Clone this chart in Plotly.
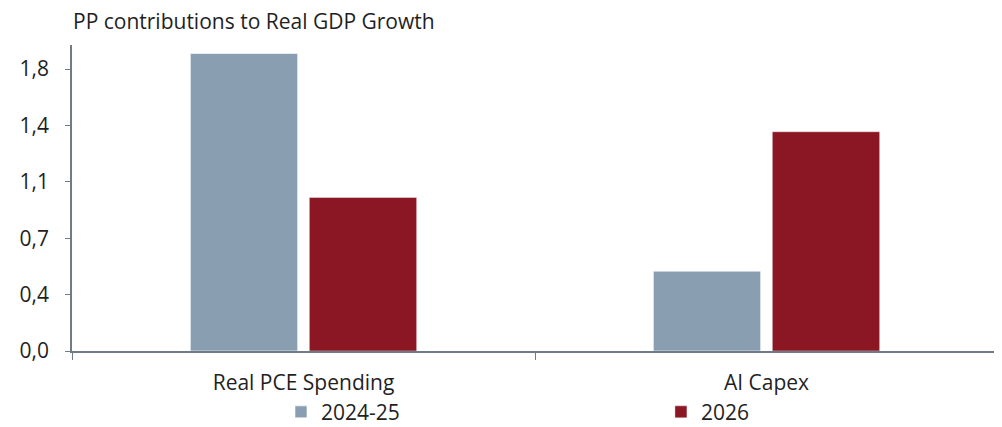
import plotly.graph_objects as go

categories = ["Real PCE Spending", "AI Capex"]
series_names = ["2024-25", "2026"]
values_2024_25 = [1.90, 0.51]
values_2026 = [0.98, 1.40]
tick_values = [0.0, 0.36, 0.72, 1.08, 1.44, 1.8]
tick_labels = ["0,0", "0,4", "0,7", "1,1", "1,4", "1,8"]
title_text = "PP contributions to Real GDP Growth"

FONT = "Open Sans"
TXT = "#1f1f1f"
AX = "#6f7c88"
FS = 21

fig = go.Figure()
fig.add_trace(go.Bar(x=categories, y=values_2024_25, name=series_names[0], legend="legend",
                     marker=dict(color="#8a9eb2", line=dict(color="rgba(255,255,255,0.6)", width=1))))
fig.add_trace(go.Bar(x=categories, y=values_2026, name=series_names[1], legend="legend2",
                     marker=dict(color="#8b1724", line=dict(color="rgba(255,255,255,0.4)", width=1))))

leg_common = dict(orientation="h", xanchor="left", y=-0.2, yanchor="middle",
                  font=dict(family=FONT, size=FS, color=TXT), itemwidth=30,
                  bgcolor="rgba(0,0,0,0)", borderwidth=0)

# page body has an 8px margin, so the figure is sized to fit the remaining window
fig.update_layout(
    width=994, height=419,
    margin=dict(l=64, r=4, t=37, b=76, autoexpand=False),
    paper_bgcolor="white", plot_bgcolor="white",
    barmode="group", bargap=0.486, bargroupgap=0.098,
    font=dict(family=FONT, size=FS, color=TXT),
    showlegend=True,
    legend=dict(x=0.2257, **leg_common),
    legend2=dict(x=0.636, **leg_common),
    annotations=[dict(text=title_text, xref="paper", yref="paper", x=0, y=1,
                      xanchor="left", yanchor="bottom", yshift=8, xshift=-1,
                      showarrow=False, font=dict(family=FONT, size=FS, color=TXT))],
)
fig.update_xaxes(showline=True, linecolor=AX, linewidth=1.5, ticks="outside",
                 tickson="boundaries", ticklen=7, tickcolor=AX, tickwidth=1,
                 ticklabelstandoff=12,
                 showgrid=False, tickfont=dict(family=FONT, size=FS, color=TXT), zeroline=False)
fig.update_yaxes(range=[0, 1.954], tickvals=tick_values, ticktext=tick_labels,
                 showline=True, linecolor=AX, linewidth=1.5, ticks="outside",
                 ticklen=5, tickcolor=AX, tickwidth=1, showgrid=False,
                 ticklabelstandoff=12,
                 tickfont=dict(family=FONT, size=FS, color=TXT), zeroline=False)

fig.write_html("out.html")
